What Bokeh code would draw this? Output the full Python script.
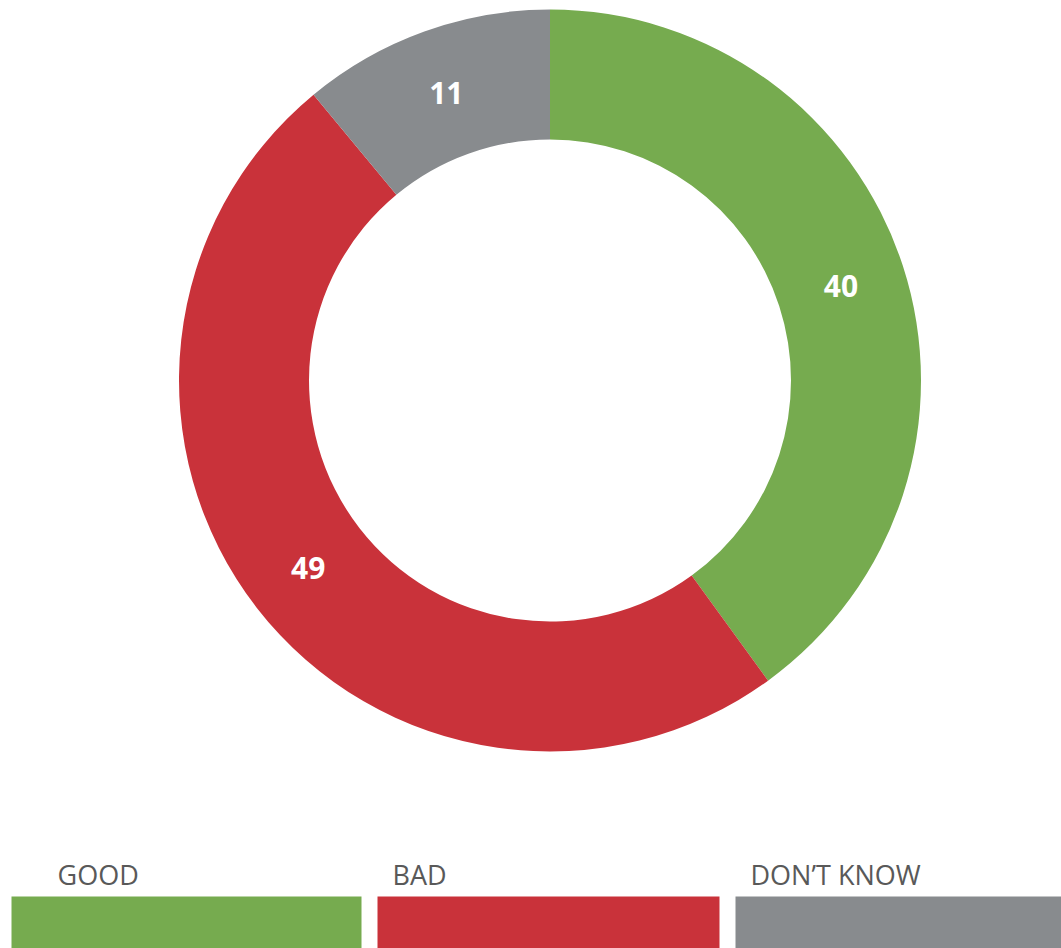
import numpy as np
from bokeh.plotting import figure
from bokeh.models import Range1d, ColumnDataSource
from bokeh.core.properties import value
from bokeh.embed import file_html
from bokeh.resources import INLINE

categories = ["GOOD", "BAD", "DON\u2019T KNOW"]
values = [40, 49, 11]
colors = ["#76AB4F", "#C9323A", "#888B8E"]

W, H = 1061, 948
p = figure(width=W, height=H, output_backend="svg", toolbar_location=None,
           x_range=Range1d(0, W), y_range=Range1d(0, H), min_border=0)
p.axis.visible = False
p.grid.visible = False
p.outline_line_color = None
p.background_fill_color = "white"
p.border_fill_color = "white"

cx, cy = 549.5, H - 380
r_out, r_in = 371, 241
vals = np.array(values, dtype=float)
frac = vals / vals.sum()
cum = np.concatenate([[0], np.cumsum(frac)])
start = np.pi / 2 - 2 * np.pi * cum[:-1]
end = np.pi / 2 - 2 * np.pi * cum[1:]
mid = (start + end) / 2
rm = (r_in + r_out) / 2

src = ColumnDataSource(dict(start=start, end=end, color=colors,
                            lx=cx + rm * np.cos(mid), ly=cy + rm * np.sin(mid),
                            lab=[str(v) for v in values]))
p.annular_wedge(x=cx, y=cy, inner_radius=r_in, outer_radius=r_out,
                start_angle="start", end_angle="end", direction="clock",
                fill_color="color", line_color=None, source=src)
p.text(x="lx", y="ly", text="lab", source=src, text_align="center",
       text_baseline="middle", text_color="white",
       text_font=value("Open Sans"), text_font_style="bold",
       text_font_size="30px")

# legend
bar_left = [11, 377, 735]
bar_right = [361, 719, 1061]
lab_x = [57, 392, 750]
p.quad(left=bar_left, right=bar_right, bottom=[0, 0, 0], top=[52, 52, 52],
       fill_color=colors, line_color=None)
p.text(x=lab_x, y=[74, 74, 74], text=categories, text_align="left",
       text_baseline="middle", text_color="#595959",
       text_font=value("Open Sans"), text_font_size="27px")

open("out.html", "w").write(file_html(p, INLINE))
